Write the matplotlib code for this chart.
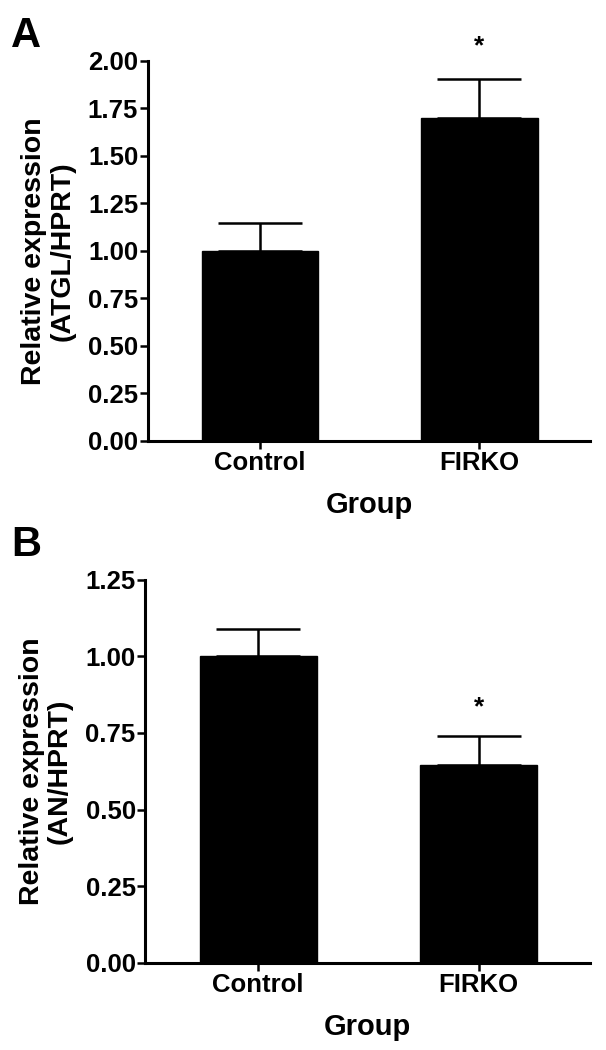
import matplotlib
matplotlib.use("Agg")
import matplotlib.pyplot as plt

plt.rcParams['font.family'] = ['Liberation Sans', 'DejaVu Sans']
plt.rcParams['font.weight'] = 'bold'

groups = ['Control', 'FIRKO']

# panel A: ATGL/HPRT
atgl_mean = [1.00, 1.70]
atgl_sem = [0.147, 0.205]
atgl_ticks = [0.00, 0.25, 0.50, 0.75, 1.00, 1.25, 1.50, 1.75, 2.00]

# panel B: AN/HPRT
an_mean = [1.00, 0.645]
an_sem = [0.09, 0.095]
an_ticks = [0.00, 0.25, 0.50, 0.75, 1.00, 1.25]

fig = plt.figure(figsize=(6.06, 10.5), dpi=100)
axA = fig.add_axes([0.244, 0.580, 0.730, 0.362])
axB = fig.add_axes([0.240, 0.083, 0.734, 0.365])


def draw_panel(ax, means, sems, ticks, ylab, star_y):
    x = list(range(len(groups)))
    ax.bar(x, means, width=0.53, color='black', edgecolor='black')
    ax.errorbar(x, means, yerr=[[0] * len(sems), sems], fmt='none',
                ecolor='black', elinewidth=1.8, capsize=30, capthick=1.8)
    ax.text(1, star_y, '*', ha='center', va='center', fontsize=19,
            fontweight='bold', clip_on=False)
    ax.set_xlim(-0.51, 1.505)
    ax.set_ylim(ticks[0], ticks[-1])
    ax.set_yticks(ticks)
    ax.set_yticklabels([f'{t:.2f}' for t in ticks])
    ax.set_xticks(x)
    ax.set_xticklabels(groups)
    for s in ['top', 'right']:
        ax.spines[s].set_visible(False)
    for s in ['left', 'bottom']:
        ax.spines[s].set_linewidth(2.2)
    ax.tick_params(width=1.8, length=6, labelsize=18.5, pad=1)
    ax.set_ylabel(ylab, fontsize=20.5, fontweight='bold', labelpad=9,
                  linespacing=1.1)
    ax.set_xlabel('Group', fontsize=21, fontweight='bold', labelpad=12)


draw_panel(axA, atgl_mean, atgl_sem, atgl_ticks,
           'Relative expression\n(ATGL/HPRT)', 2.075)
draw_panel(axB, an_mean, an_sem, an_ticks,
           'Relative expression\n(AN/HPRT)', 0.835)

fig.text(0.018, 0.985, 'A', fontsize=30, fontweight='bold', va='top')
fig.text(0.018, 0.500, 'B', fontsize=30, fontweight='bold', va='top')

fig.savefig('out.png', dpi=100)
